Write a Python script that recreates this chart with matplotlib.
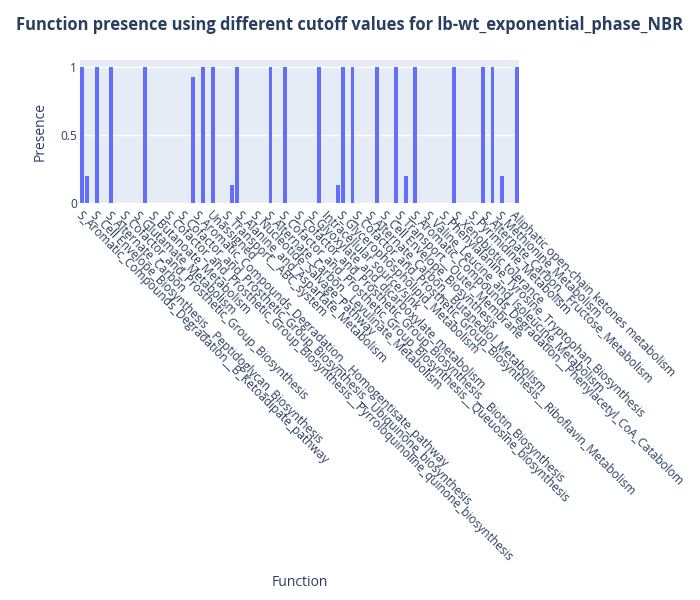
import numpy as np
import matplotlib.pyplot as plt

plt.rcParams['font.family'] = ['Open Sans', 'DejaVu Sans']

# only every 3rd category name is printed on the axis (plotly skipped the rest)
tick_labels = [
    "S_Aromatic_Compounds_Degradation__B_Ketoadipate_pathway",
    "S_Cell Envelope_Biosynthesis__Peptidoglycan_Biosynthesis",
    "S_Alternate_Carbon",
    "S_Cofactor_and_Prosthetic_Group_Biosynthesis",
    "S_Glutamate_Metabolism",
    "S_Butanoate_Metabolism",
    "S_Cofactor_and_Prosthetic_Group_Biosynthesis__Pyrroloquinoline_quinone_biosynthesis",
    "S_Cofactor_and_Prosthetic_Group_Biosynthesis__Ubiquinone_biosynthesis",
    "S_Aromatic_Compounds_Degradation__Homogentisate_pathway",
    "Unassigned",
    "S_Transport__ABC_system",
    "S_Alanine_and_Aspartate_Metabolism",
    "S_Nucleotide_Salvage_Pathway",
    "S_Alternate_Carbon__Levulinate_Metabolism",
    "S_Cofactor_and_Prosthetic_Group_Biosynthesis__Queuosine_biosynthesis",
    "S_Cofactor_and_Prosthetic_Group_Biosynthesis__Biotin_Biosynthesis",
    "S_Glyoxylate_and_dicarboxylate_metabolism",
    "Intracellular source/sink",
    "S_Glycerophospholipid_Metabolism",
    "S_Cofactor_and_Prosthetic_Group_Biosynthesis__Riboflavin_Metabolism",
    "S_Alternate_Carbon__Butanediol_Metabolism",
    "S_Cell Envelope_Biosynthesis",
    "S_Transport__Outer_Membrane",
    "S_Aromatic_Compounds_Degradation__Phenylacetyl_CoA_Catabolom",
    "S_Valine_Leucine_and_Isoleucine_Metabolism",
    "S_Phenylalanine_Tyrosine_Tryptophan_Biosynthesis",
    "S_Xenobiotic tolerance",
    "S_Pyrimidine_Metabolism",
    "S_Alternate_Carbon__Fructose_Metabolism",
    "S_Methionine_Metabolism",
    "Aliphatic open-chain ketones metabolism",
]

presence = [
    1, 0.2, 0, 1, 0, 0, 1, 0, 0, 0,
    0, 0, 0, 1, 0, 0, 0, 0, 0, 0,
    0, 0, 0, 0.93, 0, 1, 0, 1, 0, 0,
    0, 0.13, 1, 0, 0, 0, 0, 0, 0, 1,
    0, 0, 1, 0, 0, 0, 0, 0, 0, 1,
    0, 0, 0, 0.13, 1, 0, 1, 0, 0, 0,
    0, 1, 0, 0, 0, 1, 0, 0.2, 0, 1,
    0, 0, 0, 0, 0, 0, 0, 1, 0, 0,
    0, 0, 0, 1, 0, 1, 0, 0.2, 0, 0,
    1,
]

txt = '#2a3f5f'

fig = plt.figure(figsize=(7, 6), dpi=100)
ax = fig.add_axes([80 / 700, 1 - 203 / 600, 439 / 700, 143 / 600])
ax.set_facecolor('#E5ECF6')

x = np.arange(len(presence))
ax.bar(x, presence, width=0.8, color='#636EFA', zorder=3)

ax.set_xlim(-0.5, len(presence) - 0.5)
ax.set_ylim(0, max(presence) * 1.0526)
ax.set_yticks([0, 0.5, 1])
ax.set_yticklabels(['0', '0.5', '1'])
ax.grid(axis='y', color='white', linewidth=1, zorder=0)
ax.set_axisbelow(True)

ax.set_xticks(x[::3])
ax.set_xticklabels(tick_labels, rotation=-45, ha='left', va='top',
                   rotation_mode='anchor')
ax.tick_params(axis='both', length=0, labelsize=8.6, colors=txt)
ax.tick_params(axis='x', pad=4)
ax.tick_params(axis='y', pad=2)
for s in ax.spines.values():
    s.set_visible(False)

ax.set_ylabel('Presence', fontsize=10, color=txt, labelpad=9)
fig.text(300 / 700, 1 - 583 / 600, 'Function', fontsize=10, color=txt,
         ha='center', va='center')
fig.text(350 / 700, 1 - 25 / 600,
         'Function presence using different cutoff values for lb-wt_exponential_phase_NBR',
         fontsize=11.9, fontweight='bold', color=txt, ha='center', va='center')

fig.savefig('out.png', dpi=100)
